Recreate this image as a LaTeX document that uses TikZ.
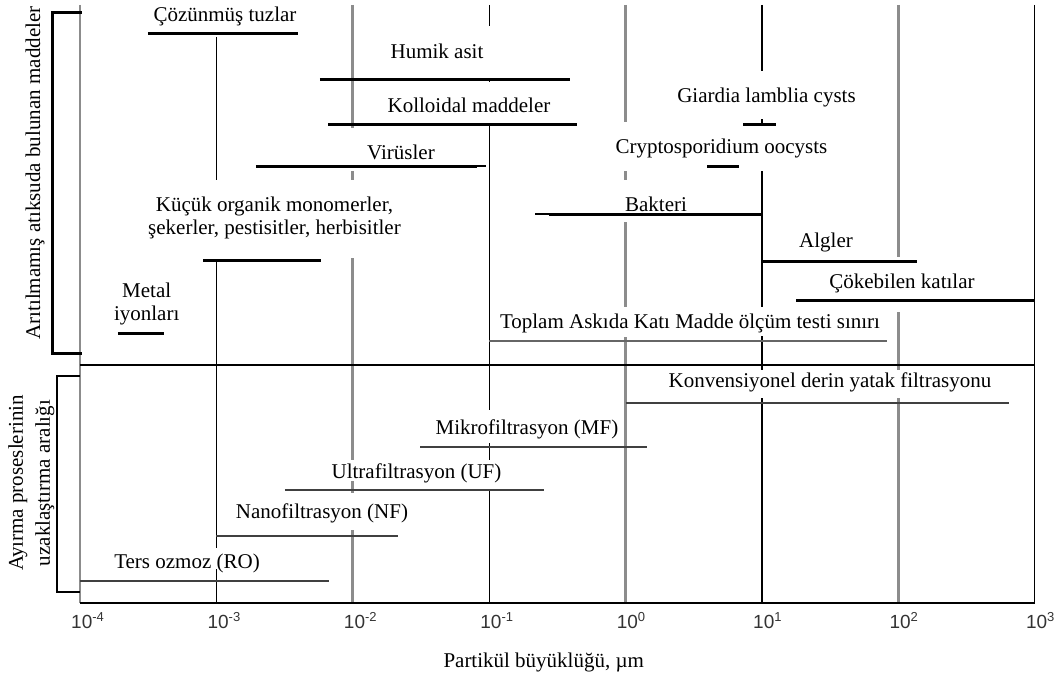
\documentclass[tikz,border=0pt]{standalone}
\usepackage{fontspec}
\setmainfont{Liberation Serif}
\newfontfamily\ticksans{Liberation Sans}

\begin{document}
\begin{tikzpicture}[x=136.4pt, y=-1pt,
    bar/.style={line width=3pt},
    tssbar/.style={line width=2.6pt, black!60},
    procbar/.style={line width=2.2pt, black!75},
    oddgrid/.style={line width=1.3pt},
    evengrid/.style={line width=2.8pt, black!45},
    lbl/.style={font=\fontsize{21}{23}\selectfont, inner sep=0pt, anchor=base},
    ticklbl/.style={font=\ticksans\fontsize{19}{19}\selectfont, text=black!80, inner sep=0pt, anchor=north west, xshift=-9pt}]
\useasboundingbox (-4.5865,0) rectangle (3.2067,677);

% Grid lines (decades), broken where labels sit
\foreach \e/\ya/\yb in {-4/5/603, -2/5/128, -2/171/180, -2/258/460, -2/481/493, -2/530/603,
                         0/5/122, 0/171/180, 0/222/307, 0/337/603, 2/5/257, 2/312/370, 2/398/603}
    \draw[evengrid] (\e,\ya) -- (\e,\yb);
\foreach \e/\ya/\yb in {-3/37/180, -3/260/548, -3/569/603, -1/5/26, -1/79/82, -1/124/410,
                         -1/443/460, -1/490/603, 1/5/71, 1/119/124, 1/171/307, 1/336/370,
                         1/398/603, 3/5/603}
    \draw[oddgrid] (\e,\ya) -- (\e,\yb);

% Separator and x-axis
\draw[line width=1.3pt] (-4,365) -- (3,365);
\draw[line width=2pt] (-4,603) -- (3,603);

% Tick labels
\foreach \e in {-4,...,3}
    \node[ticklbl] (t\e) at (\e,612) {10\raisebox{7pt}{\fontsize{13}{13}\selectfont\e}};
\node[lbl] (xlabel) at (-0.6,667) {Partikül büyüklüğü, µm};

% Brackets on the left
\draw[line width=3pt] (-3.9853,13) -- (-4.1979,13) -- (-4.1979,353) -- (-3.9853,353);
\draw[line width=1.3pt] (-4,376) -- (-4.1686,376) -- (-4.1686,592) -- (-4,592);
\node[lbl, rotate=90] (ylabA) at (-4.293,173) {Arıtılmamış atıksuda bulunan maddeler};
\node[lbl, rotate=90] (ylabB1) at (-4.418,483) {Ayırma proseslerinin};
\node[lbl, rotate=90] (ylabB2) at (-4.220,483) {uzaklaştırma aralığı};

% Substances in raw wastewater
\foreach \a/\b/\y in {-3.5015/-2.4018/34, -2.2405/-0.4076/79, -2.1818/-0.3563/124,
                      -2.7097/-1.0894/166, -3.0982/-2.2331/260, -3.7214/-3.3842/333,
                      0.8607/1.1026/124, 0.5968/0.8314/166, -0.5616/1/214,
                      1/2.1363/261, 1.2493/3/300}
    \draw[bar] (\a,\y) -- (\b,\y);
\draw[line width=1.6pt] (-1.0894,166) -- (-1.0235,166);
\draw[line width=1.6pt] (-0.6642,214) -- (-0.5616,214);
\draw[tssbar] (-1,341) -- (1.9164,341);

\node[lbl] (tuzlar) at (-2.937,22) {Çözünmüş tuzlar};
\node[lbl] (humik) at (-1.3827,58) {Humik asit};
\node[lbl] (kolloid) at (-1.1481,112) {Kolloidal maddeler};
\node[lbl] (virus) at (-1.6466,159) {Virüsler};
\node[lbl] (kucuk1) at (-2.574,211) {Küçük organik monomerler,};
\node[lbl] (kucuk2) at (-2.574,234) {şekerler, pestisitler, herbisitler};
\node[lbl] (metal1) at (-3.511,297) {Metal};
\node[lbl] (metal2) at (-3.511,320) {iyonları};
\node[lbl] (giardia) at (1.033,102) {Giardia lamblia cysts};
\node[lbl] (crypto) at (0.7031,153) {Cryptosporidium oocysts};
\node[lbl] (bakteri) at (0.2229,211) {Bakteri};
\node[lbl] (algler) at (1.4692,247) {Algler};
\node[lbl] (cokebilen) at (2.0264,288) {Çökebilen katılar};
\node[lbl] (tss) at (0.4721,328) {Toplam Askıda Katı Madde ölçüm testi sınırı};

% Separation processes
\foreach \a/\b/\y in {0/2.8109/403, -1.5073/0.1569/447, -2.4971/-0.5982/490,
                      -3/-1.6686/536, -4/-2.1745/581}
    \draw[procbar] (\a,\y) -- (\b,\y);

\node[lbl] (konv) at (1.4985,387) {Konvensiyonel derin yatak filtrasyonu};
\node[lbl] (mf) at (-0.7229,434) {Mikrofiltrasyon (MF)};
\node[lbl] (uf) at (-1.533,478) {Ultrafiltrasyon (UF)};
\node[lbl] (nf) at (-2.2258,518) {Nanofiltrasyon (NF)};
\node[lbl] (ro) at (-3.2155,568) {Ters ozmoz (RO)};
\end{tikzpicture}
\end{document}
